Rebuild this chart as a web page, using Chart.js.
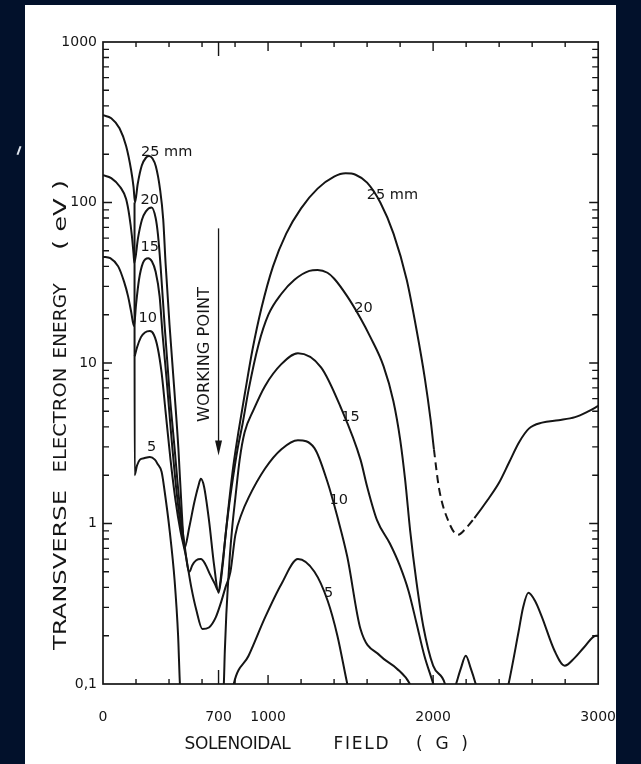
<!DOCTYPE html>
<html>
<head>
<meta charset="utf-8">
<title>Transverse electron energy vs solenoidal field</title>
<script src="https://cdn.jsdelivr.net/npm/chart.js@4.4.1/dist/chart.umd.min.js"></script>
<style>
  html, body { margin: 0; padding: 0; width: 641px; height: 764px; overflow: hidden; background: #02112b; }
  #panel { position: absolute; left: 25px; top: 5px; width: 591px; height: 759px; background: #fff; }
  #mark { position: absolute; left: 18px; top: 146px; width: 2px; height: 9px; background: #dfe5ee; transform: rotate(20deg); }
  #chart { position: absolute; left: 0; top: 0; }
</style>
</head>
<body>
<div id="panel"></div>
<div id="mark"></div>
<canvas id="chart" width="641" height="764"></canvas>
<script>
// Axis ticks
const fieldTicks = [0, 700, 1000, 2000, 3000];
const energyTicks = [0.1, 1, 10, 100, 1000];
const energyTickLabels = ['0,1', '1', '10', '100', '1000'];
const workingField = 700;

// Solenoidal field (G) and transverse energy (eV)
// null = curve is off the plot (below 0.1 eV) between two pieces
const field25 = [0, 50, 100, 140, 170, 185, 194, 210, 235, 260, 280, 300, 320, 345, 365, 379, 403, 433, 457, 478,
  493, 523, 553, 577, 593, 612, 642, 673, 700, 725, 745, 765, 790, 822, 860, 905, 960, 1030, 1110, 1200,
  1300, 1400, 1470, 1530, 1600, 1680, 1760, 1840, 1900, 1950, 1985, 2005, 2036, 2090, 2150, 2205, 2250, 2330, 2400, 2460,
  2520, 2580, 2660, 2760, 2860, 2940, 3000];
const energy25 = [350, 335, 290, 225, 160, 125, 100, 130, 170, 190, 195, 188, 168, 122, 78, 42, 17.3, 6.6, 2.9, 1.15,
  0.7, 0.95, 1.35, 1.7, 1.9, 1.7, 1.05, 0.55, 0.37, 0.55, 0.9, 1.4, 2.3, 3.8, 6.5, 12, 22, 40, 64, 92,
  122, 145, 152, 149, 133, 100, 64, 33, 16, 8, 4.4, 2.9, 1.65, 1.05, 0.85, 0.95, 1.08, 1.4, 1.8, 2.4,
  3.2, 3.9, 4.25, 4.4, 4.6, 5.0, 5.4];
// the 25 mm curve is dashed between these two fields
const dashedFrom = 2005;
const dashedTo = 2250;

const field20 = [0, 50, 104, 140, 160, 175, 185, 190, 212, 236, 260, 294, 319, 333, 349, 373, 403, 433, 463, 493,
  523, 541, 565, 593, 619, 649, 678, 700, 718, 740, 762, 790, 815, 846, 882, 942, 1002, 1081, 1160, 1250,
  1300, 1360, 1401, 1480, 1560, 1620, 1699, 1759, 1801, 1831, 1861, 1898, 1940, 2000, 2072, 2085, 2300, 2440, 2457, 2517,
  2545, 2577, 2617, 2657, 2737, 2797, 2856, 2916, 2986, 3000];
const energy20 = [148, 142, 125, 105, 82, 62, 48, 42, 60, 78, 88, 93, 80, 63, 40, 17.3, 6.6, 3.0, 1.35, 0.75,
  0.5, 0.55, 0.59, 0.6, 0.56, 0.48, 0.42, 0.38, 0.5, 0.8, 1.25, 2.0, 2.9, 4.2, 6.8, 13, 20, 27, 33, 37.5,
  38, 36.5, 33.5, 26, 19, 14.5, 9.6, 5.8, 3.3, 1.85, 0.9, 0.44, 0.23, 0.13, 0.1, 0.085, null, 0.085, 0.1, 0.21,
  0.3, 0.37, 0.33, 0.265, 0.16, 0.13, 0.145, 0.17, 0.2, 0.2];

const field15 = [0, 44, 92, 128, 152, 170, 188, 200, 218, 242, 274, 296, 319, 343, 361, 385, 415, 445, 469, 487,
  600, 729, 732, 738, 747, 756, 768, 783, 802, 828, 858, 912, 982, 1079, 1181, 1321, 1440, 1560, 1600, 1660,
  1738, 1797, 1851, 1899, 1947, 2001, 2013, 2070, 2125, 2139, 2168, 2198, 2228, 2258, 2270];
const energy15 = [46, 45, 40, 32, 26, 21, 17, 23, 33, 42, 45, 43, 37, 26, 15, 8, 3.4, 1.6, 1.0, 0.78,
  null, 0.093, 0.1, 0.16, 0.27, 0.4, 0.62, 0.95, 1.45, 2.5, 3.7, 5.1, 7.2, 9.8, 11.5, 9.4, 5.3, 2.5, 1.7, 1.05,
  0.75, 0.55, 0.38, 0.24, 0.15, 0.1, 0.09, null, 0.09, 0.1, 0.125, 0.15, 0.125, 0.1, 0.09];

const field10 = [192, 206, 230, 254, 284, 308, 331, 355, 379, 409, 439, 469, 503, 535, 565, 602, 642, 683, 714, 742,
  772, 802, 840, 882, 982, 1081, 1181, 1281, 1361, 1420, 1480, 1560, 1679, 1779, 1859, 1875];
const energy10 = [11, 12.5, 14.5, 15.5, 15.8, 15, 12.5, 8.7, 5.0, 2.5, 1.4, 0.9, 0.62, 0.4, 0.29, 0.22, 0.225, 0.26, 0.32, 0.4,
  0.5, 0.85, 1.15, 1.45, 2.2, 2.9, 3.3, 2.95, 1.8, 1.1, 0.62, 0.22, 0.15, 0.125, 0.1, 0.09];

const field5 = [191, 191.5, 206, 224, 248, 284, 314, 331, 355, 373, 404, 434, 455, 466, 472, 600, 785, 792, 882, 982,
  1081, 1181, 1281, 1361, 1420, 1480, 1490];
const energy5 = [100, 2.0, 2.3, 2.5, 2.55, 2.6, 2.5, 2.35, 2.1, 1.6, 0.9, 0.44, 0.2, 0.1, 0.085, null, 0.09, 0.1, 0.15, 0.26,
  0.42, 0.6, 0.5, 0.33, 0.2, 0.1, 0.09];

// Radius labels, written twice on the figure
const radiusLabels = ['25 mm', '20', '15', '10', '5'];
const labelFieldLeft = [386, 283, 283, 271, 295];
const labelEnergyLeft = [206, 103, 52.6, 19, 3.0];
const labelFieldRight = [1753, 1578, 1500, 1428, 1367];
const labelEnergyRight = [111, 22, 4.6, 1.39, 0.37];

const ink = '#151515';
const textFont = '"DejaVu Sans", "Liberation Sans", sans-serif';

function toPoints(field, energy) {
    return field.map((g, i) => ({ x: g, y: energy[i] }));
}

function isDecade(v) {
    const l = Math.log10(v);
    return Math.abs(l - Math.round(l)) < 1e-6;
}

// text scaled along its own direction to a given length
function drawWord(ctx, text, cx, cy, length, vertical) {
    ctx.save();
    ctx.translate(cx, cy);
    if (vertical) ctx.rotate(-Math.PI / 2);
    const w = ctx.measureText(text).width;
    if (length) ctx.scale(length / w, 1);
    ctx.textAlign = 'center';
    ctx.textBaseline = 'middle';
    ctx.fillText(text, 0, 0);
    ctx.restore();
}

// text with its letters spread out to a given length
function drawSpaced(ctx, text, cx, cy, length) {
    const chars = [...text];
    const natural = ctx.measureText(text).width;
    const gap = chars.length > 1 ? (length - natural) / (chars.length - 1) : 0;
    let pos = cx - length / 2;
    ctx.save();
    ctx.textAlign = 'left';
    ctx.textBaseline = 'middle';
    chars.forEach(ch => {
        ctx.fillText(ch, pos, cy);
        pos += ctx.measureText(ch).width + gap;
    });
    ctx.restore();
}

// Frame, inward tick marks, annotations and axis titles
const scanDecor = {
    id: 'scanDecor',
    afterDatasetsDraw(chart) {
        const { ctx, chartArea: a, scales: { x, y } } = chart;
        ctx.save();
        ctx.strokeStyle = ink;
        ctx.fillStyle = ink;

        ctx.lineWidth = 1.7;
        ctx.strokeRect(a.left, a.top, a.right - a.left, a.bottom - a.top);

        ctx.lineWidth = 1.4;
        ctx.beginPath();
        x.ticks.forEach(t => {
            if (t.value <= x.min || t.value >= x.max) return;
            const px = x.getPixelForValue(t.value);
            const len = t.value === workingField ? 14 : (t.value % 1000 === 0 ? 9 : 5);
            ctx.moveTo(px, a.bottom); ctx.lineTo(px, a.bottom - len);
            ctx.moveTo(px, a.top); ctx.lineTo(px, a.top + len);
        });
        y.ticks.forEach(t => {
            if (t.value <= y.min || t.value >= y.max) return;
            const py = y.getPixelForValue(t.value);
            const len = isDecade(t.value) ? 9 : 6;
            ctx.moveTo(a.left, py); ctx.lineTo(a.left + len, py);
            ctx.moveTo(a.right, py); ctx.lineTo(a.right - len, py);
        });
        ctx.stroke();

        // working point arrow
        const wx = x.getPixelForValue(workingField);
        const yTop = y.getPixelForValue(69);
        const yTip = y.getPixelForValue(2.65);
        ctx.lineWidth = 1.3;
        ctx.beginPath();
        ctx.moveTo(wx, yTop); ctx.lineTo(wx, yTip - 12);
        ctx.stroke();
        ctx.beginPath();
        ctx.moveTo(wx - 3.5, yTip - 15); ctx.lineTo(wx + 3.5, yTip - 15); ctx.lineTo(wx, yTip);
        ctx.closePath();
        ctx.fill();

        ctx.font = '15px ' + textFont;
        drawWord(ctx, 'WORKING POINT', wx - 13, y.getPixelForValue(11.3), 135, true);

        // radius labels
        ctx.font = '14.5px ' + textFont;
        radiusLabels.forEach((t, i) => {
            drawWord(ctx, t, x.getPixelForValue(labelFieldLeft[i]), y.getPixelForValue(labelEnergyLeft[i]), 0, false);
            drawWord(ctx, t, x.getPixelForValue(labelFieldRight[i]), y.getPixelForValue(labelEnergyRight[i]), 0, false);
        });

        // axis titles
        ctx.font = '17px ' + textFont;
        drawSpaced(ctx, 'SOLENOIDAL', 237.5, 745, 106);
        drawSpaced(ctx, 'FIELD', 361, 745, 55);
        drawSpaced(ctx, '(G)', 442, 745, 52);
        drawWord(ctx, 'TRANSVERSE', 62, 570, 160, true);
        drawWord(ctx, 'ELECTRON', 62, 420, 105, true);
        drawWord(ctx, 'ENERGY', 62, 321, 75, true);
        drawWord(ctx, '( eV )', 62, 215, 70, true);
        ctx.restore();
    }
};

const curves = [
    { label: '25 mm', field: field25, energy: energy25 },
    { label: '20 mm', field: field20, energy: energy20 },
    { label: '15 mm', field: field15, energy: energy15 },
    { label: '10 mm', field: field10, energy: energy10 },
    { label: '5 mm', field: field5, energy: energy5 }
];

const dashStart = field25.indexOf(dashedFrom);
const dashEnd = field25.indexOf(dashedTo);

const datasets = curves.map((c, k) => ({
    label: c.label,
    data: toPoints(c.field, c.energy),
    borderColor: ink,
    borderWidth: 2,
    pointRadius: 0,
    cubicInterpolationMode: 'monotone',
    spanGaps: false,
    clip: 0,
    segment: k === 0 ? {
        borderDash: s => (s.p0DataIndex >= dashStart && s.p1DataIndex <= dashEnd) ? [8, 5] : undefined
    } : undefined
}));

const fieldMarks = [];
for (let g = 0; g <= 3000; g += 200) fieldMarks.push(g);
fieldMarks.push(workingField);
fieldMarks.sort((p, q) => p - q);

const energyMarks = [];
energyTicks.slice(0, -1).forEach(d => {
    for (let m = 1; m < 10; m++) energyMarks.push(+(d * m).toPrecision(3));
});
energyMarks.push(1000);

new Chart(document.getElementById('chart'), {
    type: 'line',
    data: { datasets },
    options: {
        responsive: false,
        animation: false,
        events: [],
        layout: { padding: { left: 0, right: 40, top: 42, bottom: 0 } },
        plugins: { legend: { display: false }, tooltip: { enabled: false } },
        scales: {
            x: {
                type: 'linear',
                min: 0,
                max: 3000,
                afterBuildTicks: s => { s.ticks = fieldMarks.map(v => ({ value: v })); },
                afterFit: s => { s.height = 80; },
                grid: { display: false, drawTicks: false },
                border: { display: false },
                ticks: {
                    autoSkip: false,
                    maxRotation: 0,
                    padding: 25,
                    color: ink,
                    font: { family: textFont, size: 14 },
                    callback: v => fieldTicks.includes(v) ? String(v) : ''
                }
            },
            y: {
                type: 'logarithmic',
                min: 0.1,
                max: 1000,
                afterBuildTicks: s => { s.ticks = energyMarks.map(v => ({ value: v })); },
                afterFit: s => { s.width = 103; },
                grid: { display: false, drawTicks: false },
                border: { display: false },
                ticks: {
                    autoSkip: false,
                    padding: 6,
                    color: ink,
                    font: { family: textFont, size: 14 },
                    callback: v => {
                        const i = energyTicks.indexOf(v);
                        return i >= 0 ? energyTickLabels[i] : '';
                    }
                }
            }
        }
    },
    plugins: [scanDecor]
});
</script>
</body>
</html>
